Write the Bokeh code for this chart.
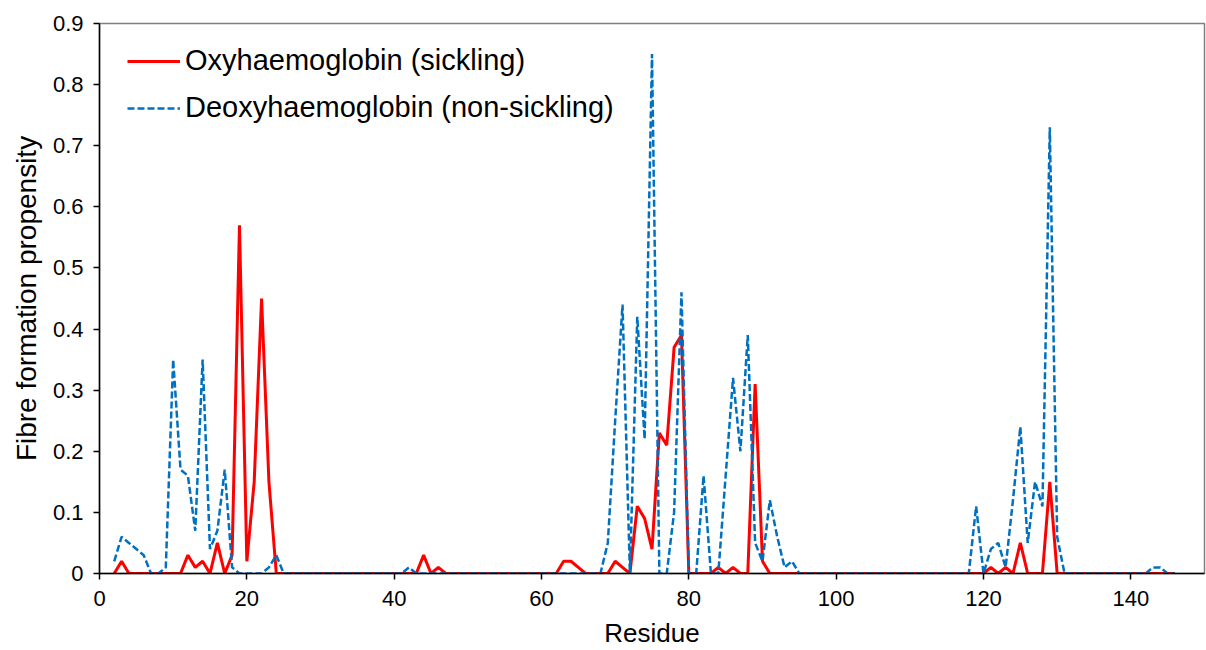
from bokeh.plotting import figure
from bokeh.models import Range1d, FixedTicker, CustomJSTickFormatter, Legend, LegendItem
from bokeh.embed import file_html
from bokeh.resources import INLINE

# Residue numbers (x values)
residues = list(range(2, 147))

# Oxyhaemoglobin (sickling) fibre formation propensity, residues 2..146
oxy = [
    0, 0.02, 0, 0, 0, 0, 0, 0, 0, 0,                 # 2-11
    0.03, 0.01, 0.02, 0, 0.05, 0, 0.03, 0.57, 0.02, 0.15,  # 12-21
    0.45, 0.15, 0, 0, 0, 0, 0, 0, 0, 0,              # 22-31
    0, 0, 0, 0, 0, 0, 0, 0, 0, 0,                    # 32-41
    0, 0, 0.03, 0, 0.01, 0, 0, 0, 0, 0,              # 42-51
    0, 0, 0, 0, 0, 0, 0, 0, 0, 0,                    # 52-61
    0, 0.02, 0.02, 0.01, 0, 0, 0, 0, 0.02, 0.01,     # 62-71
    0, 0.11, 0.09, 0.04, 0.23, 0.21, 0.37, 0.39, 0, 0,  # 72-81
    0, 0, 0.01, 0, 0.01, 0, 0, 0.31, 0.02, 0,        # 82-91
    0, 0, 0, 0, 0, 0, 0, 0, 0, 0,                    # 92-101
    0, 0, 0, 0, 0, 0, 0, 0, 0, 0,                    # 102-111
    0, 0, 0, 0, 0, 0, 0, 0, 0, 0.01,                 # 112-121
    0, 0.01, 0, 0.05, 0, 0, 0, 0.15, 0, 0,           # 122-131
    0, 0, 0, 0, 0, 0, 0, 0, 0, 0,                    # 132-141
    0, 0, 0, 0, 0,                                   # 142-146
]

# Deoxyhaemoglobin (non-sickling), residues 2..146
deoxy = [
    0.02, 0.06, 0.05, 0.04, 0.03, 0, 0, 0.01, 0.35, 0.17,   # 2-11
    0.16, 0.07, 0.35, 0.04, 0.07, 0.17, 0.01, 0, 0, 0,      # 12-21
    0, 0.01, 0.03, 0, 0, 0, 0, 0, 0, 0,                     # 22-31
    0, 0, 0, 0, 0, 0, 0, 0, 0, 0,                           # 32-41
    0.01, 0, 0, 0, 0, 0, 0, 0, 0, 0,                        # 42-51
    0, 0, 0, 0, 0, 0, 0, 0, 0, 0,                           # 52-61
    0, 0, 0, 0, 0, 0, 0, 0.05, 0.25, 0.44,                  # 62-71
    0, 0.42, 0.22, 0.85, 0, 0, 0.10, 0.46, 0, 0,            # 72-81
    0.16, 0, 0, 0.16, 0.32, 0.20, 0.39, 0.05, 0.02, 0.12,   # 82-91
    0.06, 0.01, 0.02, 0, 0, 0, 0, 0, 0, 0,                  # 92-101
    0, 0, 0, 0, 0, 0, 0, 0, 0, 0,                           # 102-111
    0, 0, 0, 0, 0, 0, 0, 0.11, 0, 0.04,                     # 112-121
    0.05, 0.01, 0.12, 0.24, 0.05, 0.15, 0.11, 0.73, 0.06, 0,  # 122-131
    0, 0, 0, 0, 0, 0, 0, 0, 0, 0,                           # 132-141
    0, 0.01, 0.01, 0, 0,                                    # 142-146
]

x_ticks = [0, 20, 40, 60, 80, 100, 120, 140]
y_ticks = [0, 0.1, 0.2, 0.3, 0.4, 0.5, 0.6, 0.7, 0.8, 0.9]
series_names = ["Oxyhaemoglobin (sickling)", "Deoxyhaemoglobin (non-sickling)"]

FONT = "Liberation Sans"

p = figure(
    width=1206, height=650,
    output_backend="svg", toolbar_location=None,
    x_range=Range1d(0, 150), y_range=Range1d(0, 0.9),
    min_border_left=99, min_border_right=2, min_border_top=23, min_border_bottom=77,
)
p.grid.visible = False
p.background_fill_color = "white"
p.border_fill_color = "white"
p.outline_line_color = "#808080"
p.outline_line_width = 1.5

l_oxy = p.line(residues, oxy, line_color="#FF0000", line_width=3)
l_deo = p.line(residues, deoxy, line_color="#0070C0", line_width=2.5, line_dash="7 3")

for ax in (p.xaxis[0], p.yaxis[0]):
    ax.axis_line_color = "black"
    ax.axis_line_width = 1.5
    ax.major_tick_line_color = "black"
    ax.major_tick_line_width = 1.5
    ax.major_tick_in = 0
    ax.major_tick_out = 6
    ax.minor_tick_line_color = None
    ax.major_label_text_font = FONT
    ax.major_label_text_font_size = "22px"
    ax.major_label_text_color = "black"
    ax.axis_label_text_font = FONT
    ax.axis_label_text_font_style = "normal"
    ax.axis_label_text_color = "black"

p.xaxis.axis_label_text_font_size = "26px"
p.yaxis.axis_label_text_font_size = "28px"
p.xaxis.ticker = FixedTicker(ticks=x_ticks)
p.yaxis.ticker = FixedTicker(ticks=y_ticks)
p.yaxis.formatter = CustomJSTickFormatter(code="return tick == 0 ? '0' : tick.toFixed(1);")
p.xaxis.axis_label = "Residue"
p.yaxis.axis_label = "Fibre formation propensity"
p.xaxis.major_label_standoff = 11
p.yaxis.major_label_standoff = 10
p.xaxis.axis_label_standoff = 9
p.yaxis.axis_label_standoff = 8

legend = Legend(
    items=[LegendItem(label=series_names[0], renderers=[l_oxy]),
           LegendItem(label=series_names[1], renderers=[l_deo])],
    location=(28, 449),
    label_text_font=FONT,
    label_text_font_size="29px",
    label_text_color="black",
    glyph_width=53,
    label_standoff=5,
    spacing=14,
    padding=0,
    margin=0,
    border_line_color=None,
    background_fill_alpha=0,
)
p.add_layout(legend)

open("out.html", "w").write(file_html(p, INLINE))
